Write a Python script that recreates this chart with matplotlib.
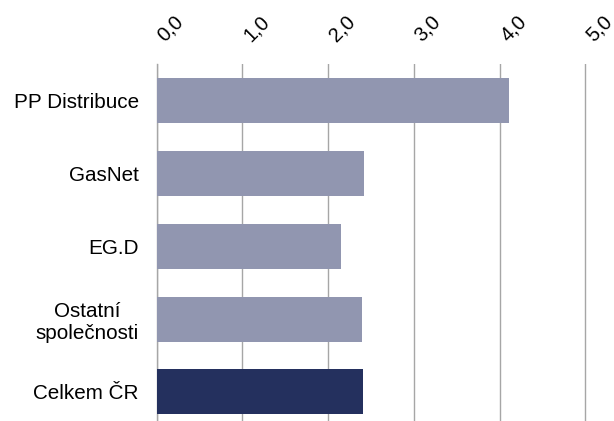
import numpy as np
import matplotlib.pyplot as plt
from matplotlib.transforms import ScaledTranslation

categories = ["PP Distribuce", "GasNet", "EG.D", "Ostatní\nspolečnosti", "Celkem ČR"]
values = [4.11, 2.42, 2.15, 2.40, 2.41]
bar_colors = ["#9196B0", "#9196B0", "#9196B0", "#9196B0", "#24305E"]
ticks = [0, 1, 2, 3, 4, 5]
tick_labels = ["0,0", "1,0", "2,0", "3,0", "4,0", "5,0"]

plt.rcParams["font.family"] = ["Liberation Sans", "DejaVu Sans"]

fig = plt.figure(figsize=(6.14, 4.21), dpi=100)
# 85.7 px per unit, x range 0..5.05
ax = fig.add_axes([156.7 / 614, 0, 5.05 * 85.7 / 614, 1 - 64 / 421])

y = np.arange(len(categories))
ax.barh(y, values, height=0.62, color=bar_colors, zorder=3)

ax.set_xlim(0, 5.05)
ax.set_ylim(4.40, -0.506)
ax.set_xticks(ticks)
ax.set_xticklabels(tick_labels)
ax.xaxis.tick_top()
ax.tick_params(axis="x", length=0, pad=16, labelsize=14.5)
shift = ScaledTranslation(8 / 100, 0, fig.dpi_scale_trans)
for lab in ax.get_xticklabels():
    lab.set_rotation(45)
    lab.set_ha("left")
    lab.set_va("baseline")
    lab.set_rotation_mode("anchor")
    lab.set_transform(lab.get_transform() + shift)

ax.set_yticks(y)
ax.set_yticklabels(categories, fontsize=14.9, multialignment="center")
ax.tick_params(axis="y", length=0, pad=13)

ax.grid(axis="x", color="#A6A6A6", linewidth=1.0, zorder=0)
for s in ["top", "right", "bottom"]:
    ax.spines[s].set_visible(False)
ax.spines["left"].set_color("#A6A6A6")
ax.spines["left"].set_linewidth(1.0)

fig.savefig("out.png", dpi=100)
